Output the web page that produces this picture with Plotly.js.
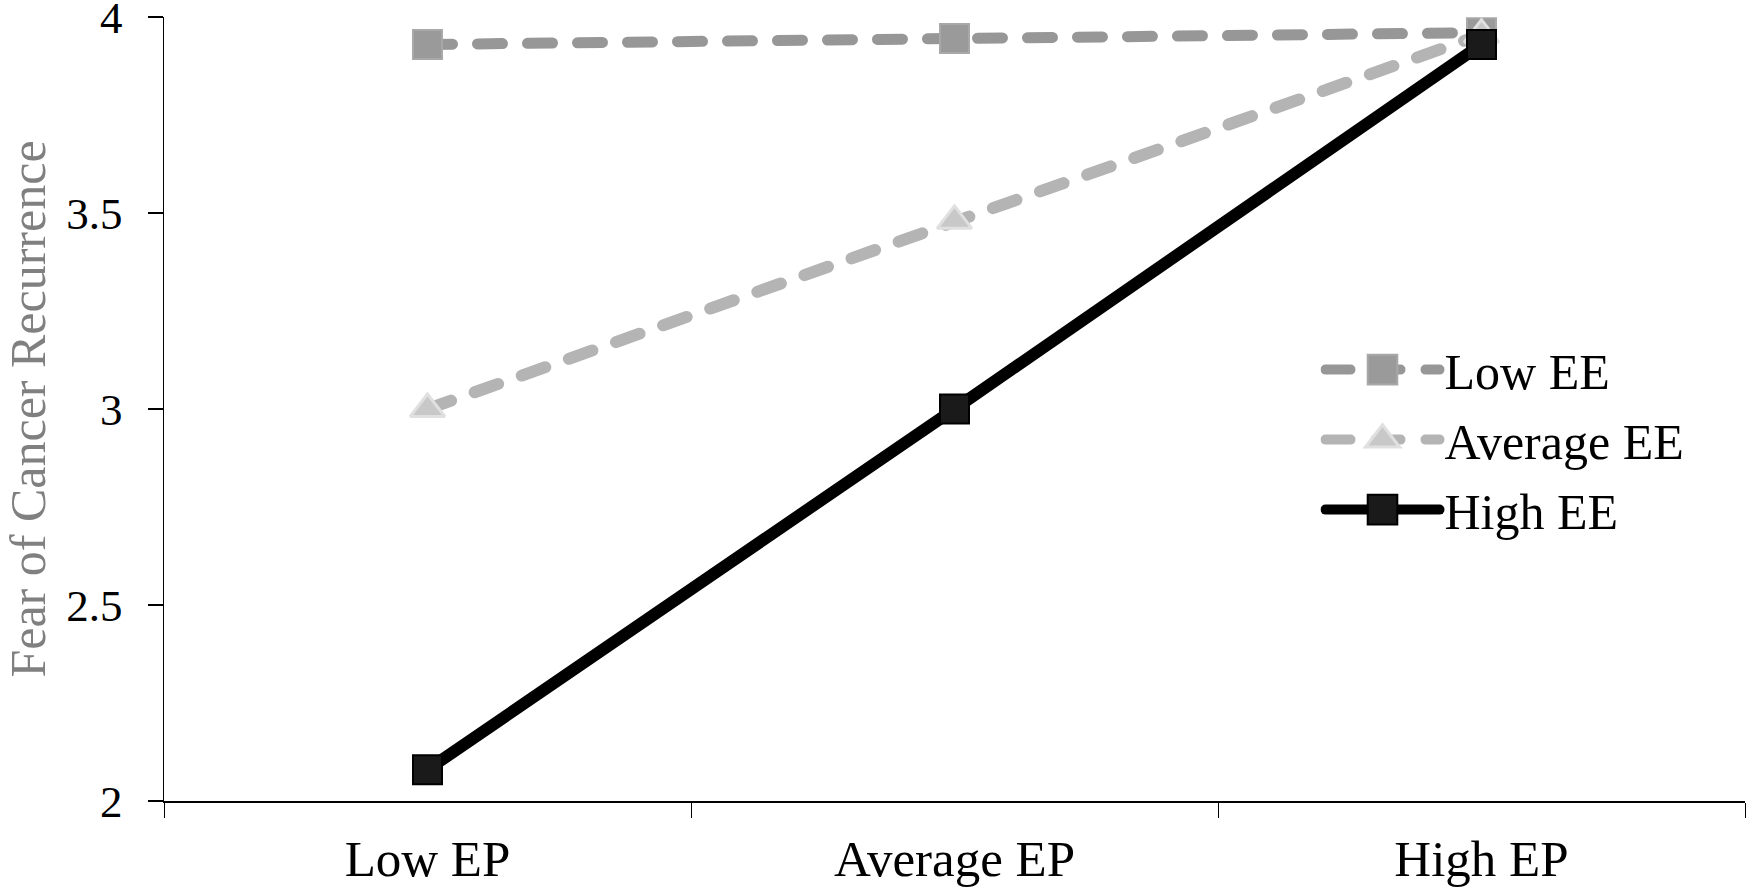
<!DOCTYPE html>
<html>
<head>
<meta charset="utf-8">
<script src="https://cdn.plot.ly/plotly-3.0.1.min.js"></script>
<style>
html, body { margin: 0; padding: 0; background: #fff; }
#chart { width: 1748px; height: 887px; }
.scatterlayer .js-line, .legend .js-line { stroke-linecap: round; }
</style>
</head>
<body>
<div id="chart"></div>
<script>
const categories = ["Low EP", "Average EP", "High EP"];
const lowEE = [3.93, 3.945, 3.96];
const averageEE = [3.0, 3.48, 3.955];
const highEE = [2.08, 3.0, 3.93];
const seriesNames = ["Low EE", "Average EE", "High EE"];
const yTicks = [2, 2.5, 3, 3.5, 4];
const yTickLabels = ["2", "2.5", "3", "3.5", "4"];

const SERIF = "Liberation Serif, Times New Roman, serif";

const traces = [
  {
    x: categories, y: lowEE, name: seriesNames[0], type: "scatter", mode: "lines+markers",
    legendgroup: "g1",
    line: { color: "#979797", width: 11, dash: "25px,25px" },
    marker: { symbol: "square", size: 29, color: "#9a9a9a", line: { color: "#a8a8a8", width: 2 } }
  },
  {
    x: categories, y: averageEE, name: seriesNames[1], type: "scatter", mode: "lines+markers",
    legendgroup: "g2",
    line: { color: "#b4b4b4", width: 12, dash: "25px,25px" },
    marker: { symbol: "triangle-up", size: 30, color: "#c8c8c8", line: { color: "#e0e0e0", width: 3 } }
  },
  {
    x: categories, y: highEE, name: seriesNames[2], type: "scatter", mode: "lines+markers",
    legendgroup: "g3",
    line: { color: "#000000", width: 12 },
    marker: { symbol: "square", size: 29, color: "#1a1a1a", line: { color: "#000000", width: 2 } }
  }
];

const layout = {
  width: 1748, height: 887,
  margin: { l: 164, r: 3, t: 17, b: 86 },
  paper_bgcolor: "#ffffff", plot_bgcolor: "#ffffff",
  font: { family: SERIF, color: "#000000", size: 46 },
  showlegend: true,
  legend: {
    x: 0.7315, y: 0.6, xanchor: "left", yanchor: "top",
    bgcolor: "rgba(0,0,0,0)", borderwidth: 0,
    font: { family: SERIF, size: 50, color: "#000000" },
    itemwidth: 114, traceorder: "grouped", tracegroupgap: 2
  },
  xaxis: {
    type: "category", range: [-0.5, 2.5],
    showline: true, linecolor: "#000000", linewidth: 2,
    ticks: "outside", ticklen: 15, tickcolor: "#000000", tickwidth: 1,
    tickson: "boundaries",
    showgrid: false, zeroline: false,
    tickfont: { family: SERIF, size: 51, color: "#000000" },
    ticklabelstandoff: 12,
    fixedrange: true
  },
  yaxis: {
    range: [2, 4], tickvals: yTicks, ticktext: yTickLabels,
    showline: true, linecolor: "#000000", linewidth: 1.5,
    ticks: "outside", ticklen: 15, tickcolor: "#000000", tickwidth: 1.5,
    showgrid: false, zeroline: false,
    tickfont: { family: SERIF, size: 45, color: "#000000" },
    ticklabelstandoff: 16,
    ticklabeloverflow: "allow",
    title: { text: "Fear of Cancer Recurrence", font: { family: SERIF, size: 50, color: "#808080" }, standoff: 32 },
    fixedrange: true
  }
};

Plotly.newPlot("chart", traces, layout, { displayModeBar: false, staticPlot: true }).then(function () {
  // Plotly caps legend marker sizes; enlarge them to match the plotted markers.
  const scale = 1.85;
  document.querySelectorAll(".legend .legendpoints path.scatterpts").forEach(function (p) {
    const t = p.getAttribute("transform") || "";
    p.setAttribute("transform", t + " scale(" + scale + ")");
    p.style.vectorEffect = "non-scaling-stroke";
  });
});
</script>
</body>
</html>
